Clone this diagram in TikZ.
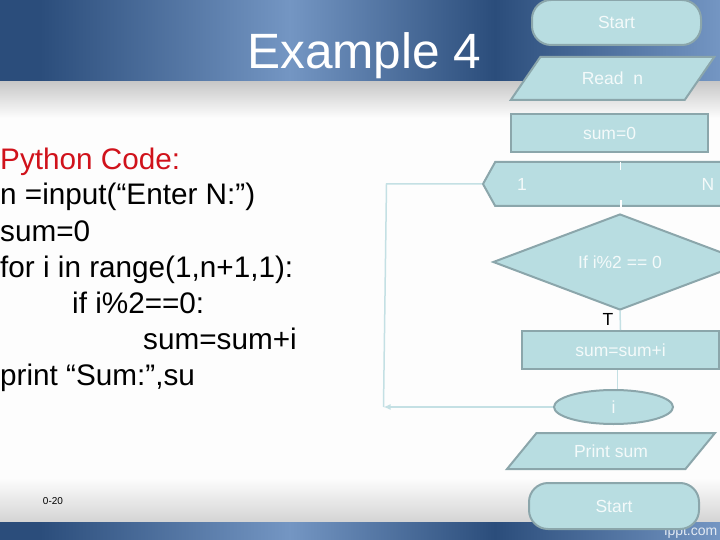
\documentclass[tikz,border=0pt]{standalone}
\usepackage{fontspec}
\setmainfont{Liberation Sans}
\usetikzlibrary{arrows.meta,shapes.geometric,shapes.symbols}
\definecolor{banddark}{HTML}{2B4D7B}
\definecolor{bandlight}{HTML}{7496C3}
\definecolor{boxfill}{HTML}{B8DDE1}
\definecolor{boxline}{HTML}{8BA6AB}
\definecolor{boxtext}{HTML}{F4FAFA}
\definecolor{flowline}{HTML}{C4E0E4}
\definecolor{pagewhite}{HTML}{FDFDFD}
\definecolor{codered}{HTML}{D0121B}
\tikzset{
  flowbox/.style={draw=boxline,fill=boxfill,line width=2pt,text=boxtext,inner sep=0pt,
    font=\fontsize{17.5}{20}\selectfont},
  roundbox/.style={flowbox,rectangle,rounded corners=19pt},
  slantbox/.style={flowbox,trapezium,trapezium stretches=true},
  boxlabel/.style={text=boxtext,inner sep=0pt,font=\fontsize{17.5}{20}\selectfont},
  codeline/.style={anchor=base west,inner sep=0pt,font=\fontsize{29.7}{36}\selectfont},
  linkline/.style={draw=flowline,line width=1.5pt},
  tickline/.style={draw=white,line width=1.5pt}
}
\begin{document}
\begin{tikzpicture}[x=1pt,y=1pt]
\useasboundingbox (0,0) rectangle (720,-540);
\clip (0,0) rectangle (720,-540);
\fill [pagewhite] (0,0) rectangle (720,-540);
\shade [top color=white!78!black,bottom color=pagewhite] (0,-81) rectangle (720,-118);
\shade [top color=pagewhite,bottom color=white!83!black] (0,-478) rectangle (720,-522);
\foreach \ytop/\ybot in {0/-81,-522/-540} {
  \fill [banddark] (0,\ytop) rectangle (40,\ybot);
  \shade [left color=banddark,right color=bandlight] (39.5,\ytop) rectangle (290,\ybot);
  \shade [left color=bandlight,right color=banddark] (289.5,\ytop) rectangle (495,\ybot);
  \shade [left color=banddark,right color=bandlight] (494.5,\ytop) rectangle (720,\ybot);
}
\node (site) [anchor=base east,inner sep=0pt,text=white!80!bandlight,font=\fontsize{14}{16}\selectfont] at (717.5,-535) {ippt.com};
\node (title) [anchor=base west,inner sep=0pt,text=white,font=\fontsize{49.6}{56}\selectfont] at (247,-69) {Example 4};
\node (code1) [codeline,text=codered] at (0,-169.5) {Python Code:};
\node (code2) [codeline] at (0,-205) {n =input(“Enter N:”)};
\node (code3) [codeline] at (0,-241.5) {sum=0};
\node (code4) [codeline] at (0,-277.5) {for i in range(1,n+1,1):};
\node (code5) [codeline] at (72,-313.5) {if i\%2==0:};
\node (code6) [codeline] at (143,-349.5) {sum=sum+i};
\node (code7) [codeline] at (0,-385.5) {print “Sum:”,su};
\node (page) [inner sep=0pt,font=\fontsize{10}{12}\selectfont] at (53,-501) {0-20};
\node (begin) [roundbox,minimum width=169pt,minimum height=45pt] at (616.5,-22.5) {Start};
\node (read) [slantbox,trapezium left angle=45.7,trapezium right angle=134.3,minimum width=205pt,minimum height=43pt] at (612.5,-78.5) {Read~~n};
\node (init) [flowbox,rectangle,minimum width=197pt,minimum height=38pt] at (609.5,-133) {sum=0};
\node (loop) [flowbox,signal,signal to=west and east,signal pointer angle=122,minimum width=274pt,minimum height=44pt] at (620,-184) {};
\node (first) [boxlabel] at (522,-184) {1};
\node (last) [boxlabel] at (708,-184) {N};
\node (test) [flowbox,diamond,aspect=2.65,minimum width=254pt,minimum height=96pt] at (620,-262) {If i\%2 == 0};
\node (yes) [inner sep=0pt,font=\fontsize{17.5}{20}\selectfont] at (608,-319) {T};
\node (add) [flowbox,rectangle,minimum width=197pt,minimum height=38pt] at (620.5,-350) {sum=sum+i};
\node (count) [flowbox,ellipse,minimum width=119pt,minimum height=34pt] at (613.5,-407) {i};
\node (show) [slantbox,trapezium left angle=41.3,trapezium right angle=138.7,minimum width=208pt,minimum height=36pt] at (611,-451) {Print sum};
\node (finish) [roundbox,minimum width=170pt,minimum height=46pt] at (614,-506) {Start};
\coordinate (loopcorner) at (386.5,-184);
\coordinate (loopend) at (383.5,-407);
\coordinate (addout) at (617.5,-370);
\coordinate (loopin) at (620.5,-162);
\coordinate (loopinend) at (620.5,-170);
\coordinate (loopout) at (621,-200);
\coordinate (loopoutend) at (621,-212);
\draw [linkline] (loop.west) -- (loopcorner) -- (loopend);
\draw [linkline,-{Latex[length=7pt,width=6pt]}] (count.west) -- (loopend);
\draw [linkline] (test.south) -- (add.north);
\draw [linkline] (addout) -- (addout |- count.north);
\draw [tickline] (loopin) -- (loopinend);
\draw [tickline] (loopout) -- (loopoutend);
\end{tikzpicture}
\end{document}
